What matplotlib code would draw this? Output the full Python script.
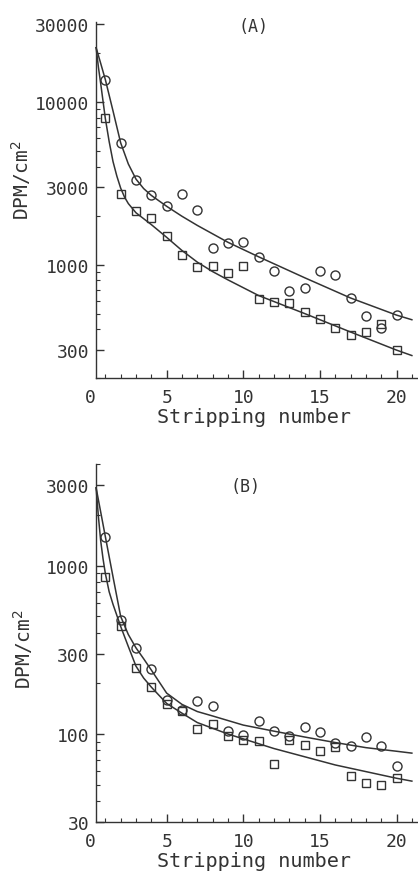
import matplotlib.pyplot as plt
import matplotlib.ticker as mticker

plt.rcParams['font.family'] = ['DejaVu Sans Mono']

# strip numbers of the measured points
strips = list(range(1, 21))

# Panel A
a_circles = [13700, 5600, 3300, 2680, 2280, 2720, 2170, 1270, 1360, 1370,
             1116, 910, 690, 718, 910, 868, 623, 480, 407, 489]
a_squares = [7900, 2700, 2130, 1940, 1495, 1137, 962, 986, 889, 976,
             614, 588, 580, 508, 464, 407, 370, 384, 430, 299]
a_fit_up_x = [0.4, 0.7, 1, 1.5, 2, 2.5, 3, 3.5, 4, 5, 6, 7, 9, 11, 14, 17, 20, 21]
a_fit_up_y = [21500, 17200, 13700, 8800, 5600, 4150, 3350, 2930, 2660, 2280,
              1980, 1740, 1370, 1116, 830, 623, 489, 458]
a_fit_lo_x = [0.4, 0.55, 0.7, 0.85, 1, 1.25, 1.5, 1.75, 2, 2.25, 2.5, 3, 4, 5,
              6, 7, 8, 9, 11, 14, 17, 20, 21]
a_fit_lo_y = [21500, 16300, 12900, 10100, 7900, 5700, 4300, 3500, 2950, 2600,
              2370, 2080, 1760, 1470, 1220, 1035, 905, 805, 645, 500, 385, 298, 276]

# Panel B
b_circles = [1490, 477, 325, 242, 160, 139, 158, 147, 104, 98,
             119, 104, 97, 110, 103, 88, 85, 96, 85, 65]
b_squares = [858, 436, 248, 190, 151, 137, 107, 114, 97, 92,
             91, 66, 92, 86, 79, 84, 56, 51, 50, 55]
b_fit_up_x = [0.4, 0.7, 1, 1.5, 2, 2.5, 3, 3.5, 4, 5, 6, 7, 8, 10, 12, 14, 16, 18, 20, 21]
b_fit_up_y = [2900, 2080, 1490, 860, 500, 390, 325, 280, 240, 175,
              150, 136, 128, 113, 104, 96, 89, 83, 79, 77]
b_fit_lo_x = [0.4, 0.55, 0.7, 0.85, 1, 1.25, 1.5, 2, 2.5, 3, 3.5, 4, 5, 6, 7,
              9, 12, 16, 20, 21]
b_fit_lo_y = [2900, 1950, 1400, 1100, 900, 700, 590, 436, 331, 253, 215, 190,
              152, 133, 117, 100, 82, 65.5, 54.6, 52.5]

ink = '#333333'

fig = plt.figure(figsize=(4.18, 8.78), dpi=100)
axA = fig.add_axes([0.2153, 0.568, 0.7847, 0.406])
axB = fig.add_axes([0.2153, 0.0626, 0.7847, 0.4074])


def style(ax, ylo, yhi, yticks):
    ax.set_yscale('log')
    ax.set_xlim(0, 21.4)
    ax.set_ylim(ylo, yhi)
    for s in ['top', 'right']:
        ax.spines[s].set_visible(False)
    ax.spines['left'].set_position(('data', 0.4))
    ax.spines['bottom'].set_bounds(0.4, 21.4)
    for s in ['left', 'bottom']:
        ax.spines[s].set_color(ink)
        ax.spines[s].set_linewidth(1.0)
    ax.set_xticks([0, 5, 10, 15, 20])
    ax.xaxis.set_minor_locator(mticker.FixedLocator(range(1, 22)))
    ax.set_yticks(yticks)
    ax.yaxis.set_major_formatter(mticker.FuncFormatter(lambda v, p: '%d' % v))
    ax.yaxis.set_minor_formatter(mticker.NullFormatter())
    ax.tick_params(which='both', direction='in', colors=ink, labelsize=13)
    ax.tick_params(which='major', length=6, width=1.0, pad=5)
    ax.tick_params(axis='x', which='major', pad=7)
    ax.tick_params(which='minor', length=3, width=0.8)
    ax.xaxis.get_major_ticks()[0].tick1line.set_visible(False)
    ax.set_xlabel('Stripping number', fontsize=14.5, color=ink, labelpad=1)
    ax.set_ylabel('DPM/cm$^2$', fontsize=14, color=ink)


style(axA, 200, 31000, [300, 1000, 3000, 10000, 30000])
axA.plot(a_fit_up_x, a_fit_up_y, color=ink, lw=1.1)
axA.plot(a_fit_lo_x, a_fit_lo_y, color=ink, lw=1.1)
axA.plot(strips, a_circles, 'o', mfc='none', mec=ink, ms=6.5, mew=1.0)
axA.plot(strips, a_squares, 's', mfc='none', mec=ink, ms=6, mew=1.0)
axA.text(0.497, 0.989, '(A)', transform=axA.transAxes, ha='center', va='center',
         fontsize=12, color=ink)
axA.yaxis.set_label_coords(-0.174, 0.56)

style(axB, 30, 4000, [30, 100, 300, 1000, 3000])
axB.plot(b_fit_up_x, b_fit_up_y, color=ink, lw=1.1)
axB.plot(b_fit_lo_x, b_fit_lo_y, color=ink, lw=1.1)
axB.plot(strips, b_circles, 'o', mfc='none', mec=ink, ms=6.5, mew=1.0)
axB.plot(strips, b_squares, 's', mfc='none', mec=ink, ms=6, mew=1.0)
axB.text(0.473, 0.939, '(B)', transform=axB.transAxes, ha='center', va='center',
         fontsize=12, color=ink)
axB.yaxis.set_label_coords(-0.168, 0.486)

fig.savefig('out.png', dpi=100)
